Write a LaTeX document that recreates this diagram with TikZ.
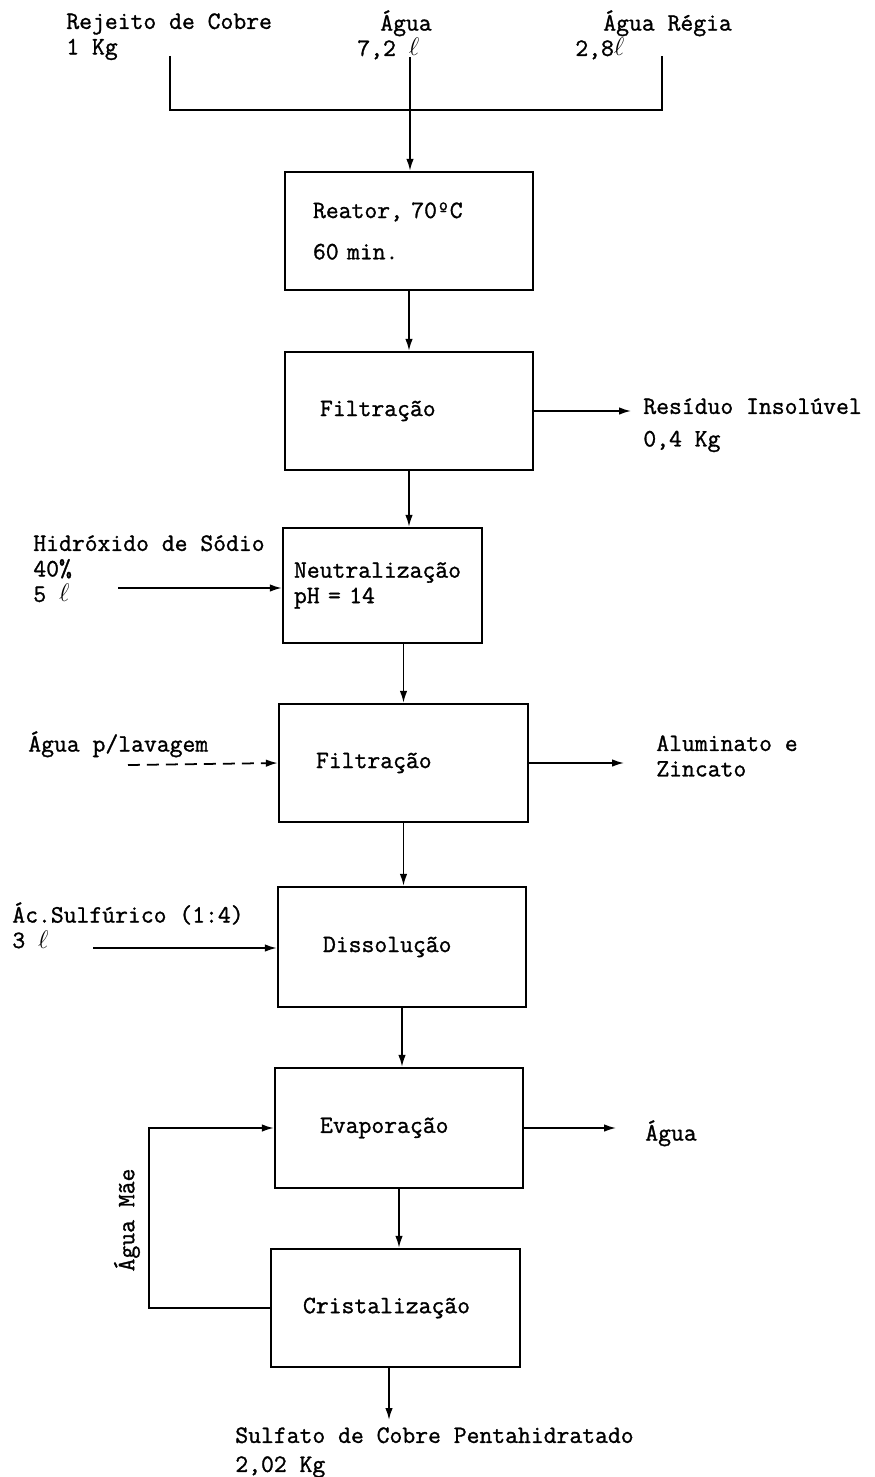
\documentclass[tikz,border=0pt]{standalone}
\usepackage{fontspec}
\newfontfamily\maquina{Latin Modern Mono}[FakeBold=1.2]
\usetikzlibrary{arrows.meta}

\tikzset{
	etapa/.style={draw, line width=1.3pt, inner sep=0pt, align=left,
		minimum width=4.96cm, minimum height=2.36cm},
	seta/.style={line width=1pt, -{Latex[length=2.4mm,width=1.5mm]}},
	linha/.style={line width=1pt},
	rotulo/.style={inner sep=0pt, align=left, anchor=north west}
}

\begin{document}
\begin{tikzpicture}[x=0.02cm, y=-0.02cm, font=\maquina\fontsize{14.2pt}{14.5pt}\selectfont]
	\useasboundingbox (0,0) rectangle (875,1477);

	% entradas do reator
	\node[rotulo] (rejeito) at (66,13) {Rejeito de Cobre\\1 Kg};
	\node[rotulo] (agua) at (380,10) {Água};
	\node[rotulo] (aguavol) at (357,38) {7,2 $\ell$};
	\node[rotulo] (regia) at (603,10) {Água Régia};
	\node[rotulo] (regiavol) at (575,38) {2,8$\ell$};
	\coordinate (ret) at (170,56);
	\coordinate (reg) at (662,56);
	\coordinate (agin) at (410,57);
	\draw[linha] (ret) -- ++(0,54) -| (reg);

	% etapas
	\node[etapa, text width=3.84cm] (reator) at (409,231) {Reator, 70ºC\\[9pt]60 min.};
	\node[etapa, text width=3.56cm] (filt1) at (409,411) {Filtração};
	\node[etapa, minimum width=3.98cm, minimum height=2.3cm, text width=3.54cm] (neutral) at (382.5,585.5) {Neutralização\\pH = 14};
	\node[etapa, minimum width=4.98cm, text width=3.5cm] (filt2) at (403.5,763) {Filtração};
	\node[etapa, minimum height=2.4cm, text width=3.16cm] (dissol) at (402,947) {Dissolução};
	\node[etapa, minimum height=2.4cm, text width=3.16cm] (evap) at (399,1128) {Evaporação};
	\node[etapa, minimum width=4.98cm, text width=3.7cm] (crist) at (395.5,1308) {Cristalização};

	% fluxo principal
	\draw[seta] (agin) -- (agin |- reator.north);
	\draw[seta] (reator) -- (filt1);
	\draw[seta] (filt1.south) -- (filt1.south |- neutral.north);
	\draw[seta] (filt2.north |- neutral.south) -- (filt2.north);
	\draw[seta] (filt2.south) -- (filt2.south |- dissol.north);
	\draw[seta] (dissol.south) -- (dissol.south |- evap.north);
	\draw[seta] (evap.south) -- (evap.south |- crist.north);
	\coordinate (sout) at (389,1420);
	\draw[seta] (sout |- crist.south) -- (sout);

	% entradas laterais
	\node[rotulo] (hidrox) at (33,535) {Hidróxido de Sódio\\40\%\\5 $\ell$};
	\coordinate (hin) at (118,588);
	\draw[seta] (hin) -- (hin -| neutral.west);

	\node[rotulo] (lavagem) at (28,731) {Água p/lavagem};
	\draw[seta, dash pattern=on 6.8pt off 4pt] (128,765) -- (filt2.west);

	\node[rotulo] (sulfur) at (12,902) {Ác.Sulfúrico (1:4)\\3 $\ell$};
	\coordinate (sin) at (93,948);
	\draw[seta] (sin) -- (sin -| dissol.west);

	% saidas
	\draw[seta] (filt1.east) -- ++(97,0);
	\node[rotulo] (residuo) at (643,398) {Resíduo Insolúvel\\[4pt]0,4 Kg};
	\draw[seta] (filt2.east) -- ++(95,0);
	\node[rotulo] (alumin) at (656,735) {Aluminato e\\Zincato};
	\draw[seta] (evap.east) -- ++(92,0);
	\node[rotulo] (aguaout) at (645,1120) {Água};

	% reciclo
	\draw[seta] (crist.west) -- ++(-121,0) |- (evap.west);
	\node[inner sep=0pt, rotate=90] (maee) at (127,1220) {Água Mãe};

	% produto
	\node[rotulo] (sulfato) at (235,1427) {Sulfato de Cobre Pentahidratado\\[2pt]2,02 Kg};
\end{tikzpicture}
\end{document}
